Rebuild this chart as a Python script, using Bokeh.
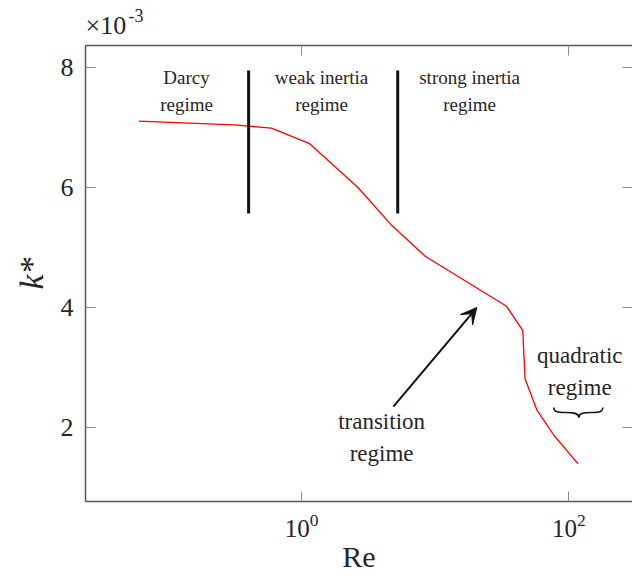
from bokeh.plotting import figure
from bokeh.models import LinearAxis, FixedTicker, Range1d, Arrow, VeeHead
from bokeh.layouts import column
from bokeh.core.properties import value
from bokeh.embed import file_html
from bokeh.resources import INLINE

# ---- data (k* in units of 1e-3) ----
re_vals = [0.0604, 0.313, 0.594, 1.148, 2.64, 4.72, 8.41, 34.2, 45.2, 47.1, 57.6, 77.6, 117.4]
k_vals = [7.105, 7.045, 6.99, 6.73, 6.00, 5.37, 4.855, 4.02, 3.62, 2.81, 2.295, 1.867, 1.395]

x_ticks = [1, 100]
y_ticks = [2, 4, 6, 8]

regime_bounds = [0.401, 5.24]
bound_k_top = 7.95
bound_k_bottom = 5.567

label_texts = ["Darcy\nregime", "weak inertia\nregime", "strong inertia\nregime"]
label_re = [0.1375, 1.41, 18.1]
label_k = [7.608, 7.608, 7.608]

big_texts = ["transition\nregime", "quadratic\nregime"]
big_re = [3.97, 120.9]
big_k = [1.833, 2.933]

arrow_start = (4.86, 2.35)
arrow_end = (20.5, 4.0)

# under-brace beneath "quadratic regime" (4 cubic segments)
br_x0 = [77.2, 95.0, 118.9, 148.7]
br_y0 = [2.333, 2.25, 2.167, 2.25]
br_x1 = [95.0, 118.9, 148.7, 179.8]
br_y1 = [2.25, 2.167, 2.25, 2.333]
br_cx0 = [77.2, 110.9, 118.9, 170.7]
br_cy0 = [2.267, 2.25, 2.233, 2.25]
br_cx1 = [81.3, 118.9, 127.3, 179.8]
br_cy1 = [2.25, 2.233, 2.25, 2.267]

# axis multiplier note "×10^-3"
mult_base = "×10"
mult_exp = "-3"

SERIF = "Liberation Serif"
AX = "#555555"
TK = "#8c8c8c"
TXT = "#262626"

x_range = Range1d(0.0241, 300)

p = figure(width=632, height=533, x_axis_type="log",
           x_range=x_range, y_range=Range1d(0.767, 8.367),
           output_backend="svg", toolbar_location=None,
           min_border_left=85, min_border_right=0, min_border_top=2, min_border_bottom=75)
p.outline_line_color = None
p.grid.visible = False
p.background_fill_color = "white"
p.border_fill_color = "white"

xa = p.xaxis[0]
xa.ticker = FixedTicker(ticks=x_ticks)
xa.major_tick_in = 10
xa.major_tick_out = 0
xa.minor_tick_line_color = None
xa.axis_line_color = AX
xa.axis_line_width = 1.5
xa.major_tick_line_color = TK
xa.major_label_text_font = SERIF
xa.major_label_text_font_size = "25px"
xa.major_label_text_color = TXT
xa.major_label_standoff = 12
xa.axis_label = "Re"
xa.axis_label_text_font = SERIF
xa.axis_label_text_font_style = "normal"
xa.axis_label_text_font_size = "30px"
xa.axis_label_text_color = TXT
xa.axis_label_standoff = 0

ya = p.yaxis[0]
ya.ticker = FixedTicker(ticks=y_ticks)
ya.major_tick_in = 10
ya.major_tick_out = 0
ya.minor_tick_line_color = None
ya.axis_line_color = AX
ya.axis_line_width = 1.5
ya.major_tick_line_color = TK
ya.major_label_text_font = SERIF
ya.major_label_text_font_size = "26px"
ya.major_label_text_color = TXT
ya.major_label_standoff = 12
ya.axis_label = "k*"
ya.axis_label_text_font = SERIF
ya.axis_label_text_font_style = "italic"
ya.axis_label_text_font_size = "34px"
ya.axis_label_text_color = TXT
ya.axis_label_standoff = 8

top = LinearAxis(ticker=FixedTicker(ticks=x_ticks), major_tick_in=10, major_tick_out=0,
                 minor_tick_line_color=None, axis_line_color=AX, axis_line_width=1.5,
                 major_tick_line_color=TK, major_label_overrides={1: "", 100: ""},
                 major_label_text_font_size="2px", major_label_standoff=0)
p.add_layout(top, "above")
right = LinearAxis(ticker=FixedTicker(ticks=y_ticks), major_tick_in=10, major_tick_out=0,
                   minor_tick_line_color=None, axis_line_color=None,
                   major_tick_line_color=TK, major_label_overrides={2: "", 4: "", 6: "", 8: ""},
                   major_label_text_font_size="2px", major_label_standoff=0)
p.add_layout(right, "right")

# curve
p.line(re_vals, k_vals, line_color="#ff0000", line_width=1.3)

# regime boundaries
p.segment(x0=regime_bounds, y0=[bound_k_top] * 2, x1=regime_bounds, y1=[bound_k_bottom] * 2,
          line_color="#111111", line_width=3)

# texts
p.text(x=label_re, y=label_k, text=label_texts, text_font=value(SERIF), text_font_size="19px",
       text_align="center", text_baseline="middle", text_color=TXT, text_line_height=1.25)
p.text(x=big_re, y=big_k, text=big_texts, text_font=value(SERIF), text_font_size="23px",
       text_align="center", text_baseline="middle", text_color=TXT, text_line_height=1.3)

# arrow
p.add_layout(Arrow(end=VeeHead(size=16, fill_color="#111111", line_color="#111111"),
                   x_start=arrow_start[0], y_start=arrow_start[1],
                   x_end=arrow_end[0], y_end=arrow_end[1],
                   line_color="#111111", line_width=2))

# brace
p.bezier(x0=br_x0, y0=br_y0, x1=br_x1, y1=br_y1, cx0=br_cx0, cy0=br_cy0, cx1=br_cx1, cy1=br_cy1,
         line_color="#111111", line_width=1.5)

# strip above the plot holding the "×10^-3" multiplier (same x mapping as the plot)
strip = figure(width=632, height=43, x_axis_type="log", x_range=x_range, y_range=Range1d(0, 43),
               output_backend="svg", toolbar_location=None,
               min_border_left=85, min_border_right=p.min_border_right, min_border_top=0,
               min_border_bottom=0)
strip.axis.visible = False
strip.grid.visible = False
strip.outline_line_color = None
strip.add_layout(LinearAxis(visible=False), "right")
strip.text(x=[0.0241], y=[18], text=[mult_base], text_font=value(SERIF), text_font_size="26px",
           text_align="left", text_baseline="alphabetic", text_color=TXT)
strip.text(x=[0.0506], y=[28], text=[mult_exp], text_font=value(SERIF), text_font_size="18px",
           text_align="left", text_baseline="alphabetic", text_color=TXT)

open("out.html", "w").write(file_html(column(strip, p, spacing=0), INLINE))
